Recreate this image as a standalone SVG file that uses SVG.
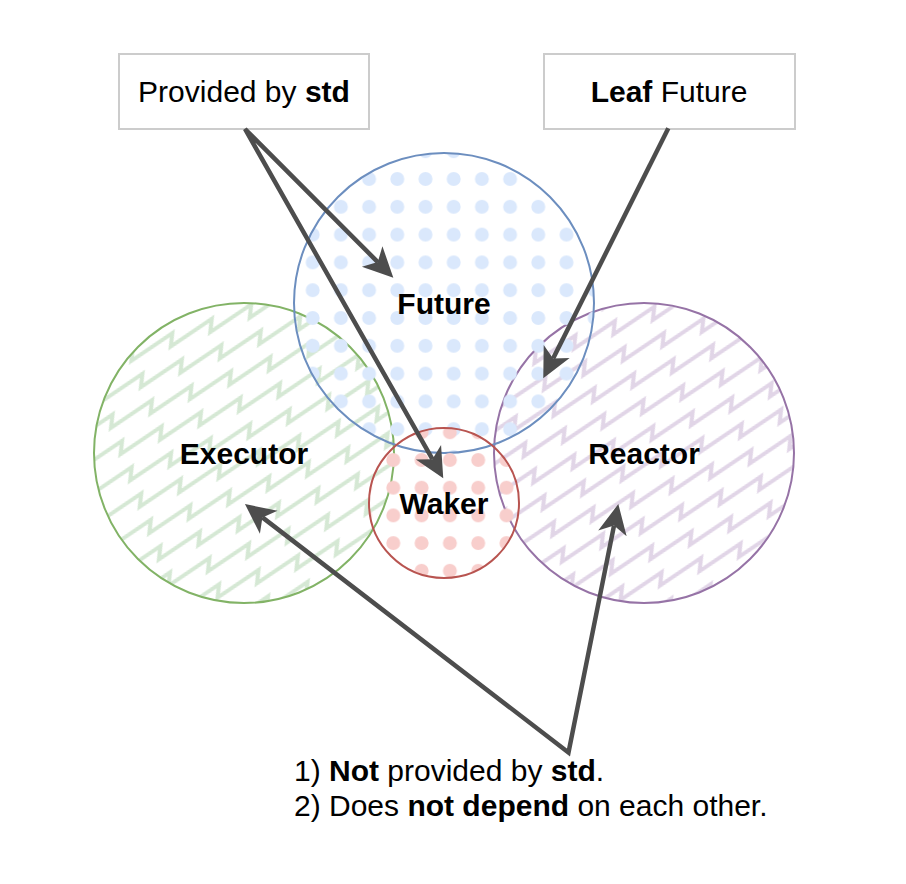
<svg xmlns="http://www.w3.org/2000/svg" width="906" height="884" viewBox="0 0 906 884">
  <defs>
    <style>
      .lbl { font-family: "Liberation Sans", Arial, Helvetica, sans-serif; font-size: 30px; fill: #000000; }
      .b { font-weight: bold; }
      .box { fill: #ffffff; stroke: #cccccc; stroke-width: 2; }
      .conn { fill: none; stroke: #4d4d4d; stroke-width: 4.5; stroke-linejoin: miter; }
    </style>
    <pattern id="dotsBlue" patternUnits="userSpaceOnUse" x="298.6" y="165.1" width="28.2" height="27.8">
      <circle cx="14.1" cy="13.9" r="7" fill="#dae8fc"/>
    </pattern>
    <pattern id="dotsRed" patternUnits="userSpaceOnUse" x="379.15" y="446.15" width="28.3" height="27.7">
      <circle cx="14.15" cy="13.85" r="7" fill="#f8cecc"/>
    </pattern>
    <pattern id="zigGreen" patternUnits="userSpaceOnUse" x="0" y="0" width="42" height="28" patternTransform="rotate(-20)">
      <path d="M-42,20 L6,8 L0,20 L48,8 L42,20 L90,8" fill="none" stroke="#d5e8d4" stroke-width="4"/>
    </pattern>
    <pattern id="zigPurple" patternUnits="userSpaceOnUse" x="0" y="0" width="42" height="28" patternTransform="rotate(-20)">
      <path d="M-42,20 L6,8 L0,20 L48,8 L42,20 L90,8" fill="none" stroke="#e1d5e7" stroke-width="4"/>
    </pattern>
    <marker id="arr" markerUnits="userSpaceOnUse" markerWidth="40" markerHeight="40" refX="0" refY="0" orient="auto-start-reverse" overflow="visible">
      <path d="M22,0 L-8,-14.5 L0,0 L-8,14.5 Z" fill="#4d4d4d"/>
    </marker>
  </defs>

  <rect width="906" height="884" fill="#ffffff"/>

  <g id="executor">
    <circle cx="244" cy="453" r="150" fill="url(#zigGreen)" stroke="#82b366" stroke-width="2"/>
    <text class="lbl b" x="244" y="464" text-anchor="middle">Executor</text>
  </g>
  <g id="reactor">
    <circle cx="644" cy="453" r="150" fill="url(#zigPurple)" stroke="#9673a6" stroke-width="2"/>
    <text class="lbl b" x="644" y="464" text-anchor="middle">Reactor</text>
  </g>
  <g id="future">
    <circle cx="444" cy="303" r="150" fill="url(#dotsBlue)" stroke="#6c8ebf" stroke-width="2"/>
    <text class="lbl b" x="444" y="314" text-anchor="middle">Future</text>
  </g>
  <g id="waker">
    <circle cx="444" cy="503" r="75" fill="url(#dotsRed)" stroke="#b85450" stroke-width="2"/>
    <text class="lbl b" x="444" y="514" text-anchor="middle">Waker</text>
  </g>

  <g id="provided-by-std">
    <rect class="box" x="119" y="54" width="250" height="75"/>
    <text class="lbl" x="244" y="102" text-anchor="middle">Provided by <tspan class="b">std</tspan></text>
  </g>
  <g id="leaf-future">
    <rect class="box" x="544" y="54" width="251" height="75"/>
    <text class="lbl" x="669" y="102" text-anchor="middle"><tspan class="b">Leaf</tspan> Future</text>
  </g>
  <g id="note">
    <text class="lbl" x="294" y="781">1) <tspan class="b">Not</tspan> provided by <tspan class="b">std</tspan>.</text>
    <text class="lbl" x="294" y="816">2) Does <tspan class="b">not depend</tspan> on each other.</text>
  </g>

  <g id="connectors">
    <path class="conn" d="M377.8,262.1 L245,129 L432.4,459.2" marker-start="url(#arr)" marker-end="url(#arr)"/>
    <path class="conn" d="M668.3,128.3 L553.1,358.6" marker-end="url(#arr)"/>
    <path class="conn" d="M262.4,517.4 L568.5,752.5 L614,525.6" marker-start="url(#arr)" marker-end="url(#arr)"/>
  </g>
</svg>
